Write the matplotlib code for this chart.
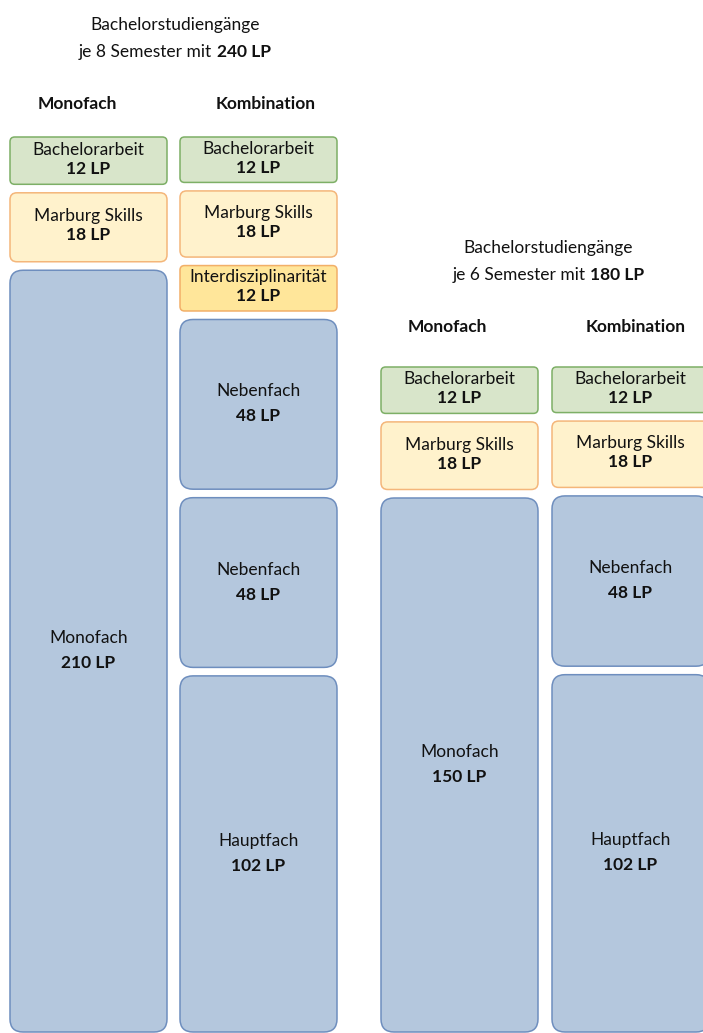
import matplotlib
matplotlib.use("Agg")
import matplotlib.pyplot as plt
from matplotlib.patches import FancyBboxPatch

# ---- data ----
group_line1 = ["Bachelorstudiengänge", "Bachelorstudiengänge"]
group_line2 = ["je 8 Semester mit ", "je 6 Semester mit "]
group_total = ["240 LP", "180 LP"]

column_names = ["Monofach", "Kombination", "Monofach", "Kombination"]
column_group = [0, 0, 1, 1]

mono8_labels = ["Bachelorarbeit", "Marburg Skills", "Monofach"]
mono8_lp = [12, 18, 210]
kombi8_labels = ["Bachelorarbeit", "Marburg Skills", "Interdisziplinarität",
                 "Nebenfach", "Nebenfach", "Hauptfach"]
kombi8_lp = [12, 18, 12, 48, 48, 102]
mono6_labels = ["Bachelorarbeit", "Marburg Skills", "Monofach"]
mono6_lp = [12, 18, 150]
kombi6_labels = ["Bachelorarbeit", "Marburg Skills", "Nebenfach", "Hauptfach"]
kombi6_lp = [12, 18, 48, 102]

column_labels = [mono8_labels, kombi8_labels, mono6_labels, kombi6_labels]
column_lp = [mono8_lp, kombi8_lp, mono6_lp, kombi6_lp]

# ---- style / layout ----
W, H = 703, 1033
FONT = ["Lato", "DejaVu Sans"]
FS = 12.5
TXT = "#111111"
styles = {
    "Bachelorarbeit": ("#D8E5CA", "#7DAF66"),
    "Marburg Skills": ("#FFF2CC", "#F4B67A"),
    "Interdisziplinarität": ("#FFE69A", "#F2AF68"),
    "Monofach": ("#B4C7DD", "#6E8EBE"),
    "Nebenfach": ("#B4C7DD", "#6E8EBE"),
    "Hauptfach": ("#B4C7DD", "#6E8EBE"),
}
GAP = 8.5          # px between stacked boxes
BOX_PAD = 4        # px extra height added to every box
BOTTOM = 1032      # each column stack fills down to here
BOX_W = 157
col_x = [10, 180, 381, 552]
group_top = [137, 367]
group_title_x = [175, 548]
group_title_y = [25, 248]
header_x = [77, 266, 447, 636]
header_dy = [-33, -40]

fig = plt.figure(figsize=(W / 100, H / 100), dpi=100)
ax = fig.add_axes([0, 0, 1, 1])
ax.set_xlim(0, W)
ax.set_ylim(H, 0)
ax.axis("off")

# boxes (heights proportional to LP within each column)
for ci, (labels, lps) in enumerate(zip(column_labels, column_lp)):
    g = column_group[ci]
    y = group_top[g]
    n = len(lps)
    avail = BOTTOM - y - GAP * (n - 1) - BOX_PAD * n
    scale = avail / sum(lps)
    x0 = col_x[ci]
    for lab, lp in zip(labels, lps):
        h = lp * scale + BOX_PAD
        fc, ec = styles[lab]
        r = min(13, 0.1 * h)
        p = FancyBboxPatch((x0, y), BOX_W, h,
                           boxstyle=f"round,pad=0,rounding_size={r}",
                           facecolor=fc, edgecolor=ec, linewidth=1.1,
                           zorder=2)
        ax.add_patch(p)
        cx = x0 + BOX_W / 2
        cy = y + h / 2
        if h < 100:
            d1, d2 = -11, 8
        else:
            d1, d2 = -13, 12
        ax.text(cx, cy + d1, lab, ha="center", va="center", fontsize=FS,
                family=FONT, color=TXT, zorder=3)
        ax.text(cx, cy + d2, f"{lp} LP", ha="center", va="center",
                fontsize=FS, family=FONT, weight="bold", color=TXT, zorder=3)
        y += h + GAP

# column headers
for ci, name in enumerate(column_names):
    g = column_group[ci]
    ax.text(header_x[ci], group_top[g] + header_dy[g], name, ha="center",
            va="center", fontsize=FS, family=FONT, weight="bold", color=TXT)

# group titles (mixed weight second line)
fig.canvas.draw()
renderer = fig.canvas.get_renderer()
for g in range(2):
    ax.text(group_title_x[g], group_title_y[g], group_line1[g], ha="center",
            va="center", fontsize=FS, family=FONT, color=TXT)
    t1 = ax.text(0, 0, group_line2[g], fontsize=FS, family=FONT, color=TXT)
    t2 = ax.text(0, 0, group_total[g], fontsize=FS, family=FONT,
                 weight="bold", color=TXT)
    w1 = t1.get_window_extent(renderer).width
    w2 = t2.get_window_extent(renderer).width
    xs = group_title_x[g] - (w1 + w2) / 2
    yy = group_title_y[g] + 27
    t1.set_position((xs, yy)); t1.set_va("center"); t1.set_ha("left")
    t2.set_position((xs + w1, yy)); t2.set_va("center"); t2.set_ha("left")

fig.savefig("out.png", dpi=100)
